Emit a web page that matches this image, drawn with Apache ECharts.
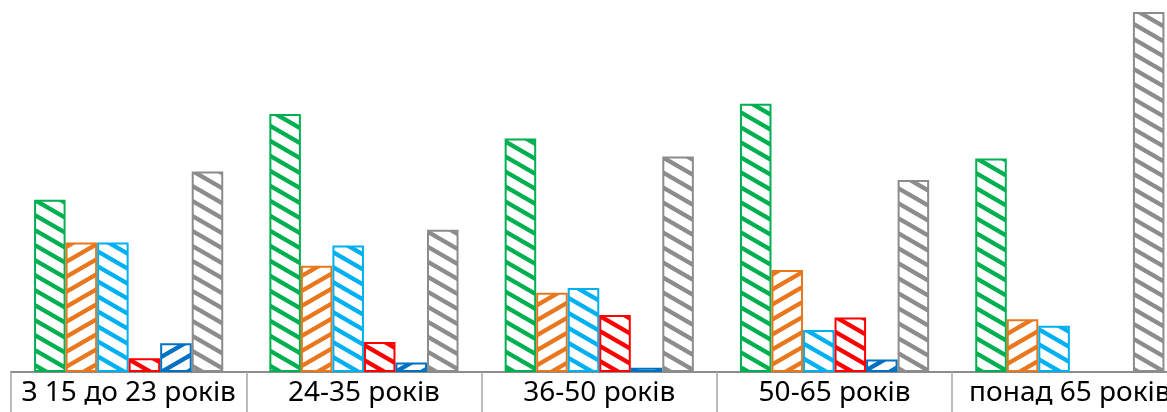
<!DOCTYPE html>
<html>
<head>
<meta charset="utf-8">
<script src="https://cdn.jsdelivr.net/npm/echarts@6/dist/echarts.min.js"></script>
<style>
html,body{margin:0;padding:0;background:#fff;overflow:hidden;}
#chart{width:1167px;height:412px;}
</style>
</head>
<body>
<div id="chart"></div>
<script>
const categories = ['З 15 до 23 років', '24-35 років', '36-50 років', '50-65 років', 'понад 65 років'];
const green = [28.7, 43.0, 38.9, 44.7, 35.6];
const orange = [21.6, 17.7, 13.2, 17.0, 8.8];
const lightBlue = [21.6, 21.1, 14.0, 7.0, 7.7];
const red = [2.3, 5.0, 9.5, 9.1, null];
const darkBlue = [4.8, 1.6, 0.7, 2.1, null];
const gray = [33.4, 23.7, 35.9, 32.0, 60.0];

function makePattern(color, dir) {
  const W = 26, H = 15;
  const c = document.createElement('canvas');
  c.width = W; c.height = H;
  const ctx = c.getContext('2d');
  ctx.fillStyle = '#ffffff';
  ctx.fillRect(0, 0, W, H);
  ctx.strokeStyle = color;
  ctx.lineWidth = 4.3;
  for (let k = -2; k <= 2; k++) {
    ctx.beginPath();
    if (dir === 'down') {
      ctx.moveTo(-W, k * H - H);
      ctx.lineTo(2 * W, k * H + 2 * H);
    } else {
      ctx.moveTo(-W, k * H + 2 * H);
      ctx.lineTo(2 * W, k * H - H);
    }
    ctx.stroke();
  }
  return { image: c, repeat: 'repeat' };
}

const seriesDefs = [
  { name: 'green', data: green, color: '#00B050', dir: 'down' },
  { name: 'orange', data: orange, color: '#E8771E', dir: 'up' },
  { name: 'lightBlue', data: lightBlue, color: '#00B0F0', dir: 'down' },
  { name: 'red', data: red, color: '#FF0000', dir: 'down' },
  { name: 'darkBlue', data: darkBlue, color: '#0070C0', dir: 'up' },
  { name: 'gray', data: gray, color: '#8C8C8C', dir: 'down' }
];

const chart = echarts.init(document.getElementById('chart'), null, { renderer: 'canvas' });
chart.setOption({
  animation: false,
  backgroundColor: '#ffffff',
  grid: { left: 11, width: 1176.5, top: 0, bottom: 40, containLabel: false, outerBoundsMode: 'none' },
  xAxis: {
    type: 'category',
    data: categories,
    boundaryGap: true,
    axisLine: { show: true, lineStyle: { color: '#8C8C8C', width: 2 } },
    axisTick: { show: true, length: 40, alignWithLabel: false, lineStyle: { color: '#A6A6A6', width: 1.5 } },
    axisLabel: { color: '#000000', fontFamily: 'Noto Sans', fontSize: 28, margin: 7, interval: 0, hideOverlap: false },
    splitLine: { show: false }
  },
  yAxis: {
    type: 'value', min: 0, max: 62, show: false, splitLine: { show: false }
  },
  series: seriesDefs.map(s => ({
    name: s.name,
    type: 'bar',
    data: s.data,
    barGap: '0%',
    barCategoryGap: '19.6%',
    itemStyle: { color: makePattern(s.color, s.dir), borderColor: s.color, borderWidth: 2 }
  }))
});
</script>
</body>
</html>
